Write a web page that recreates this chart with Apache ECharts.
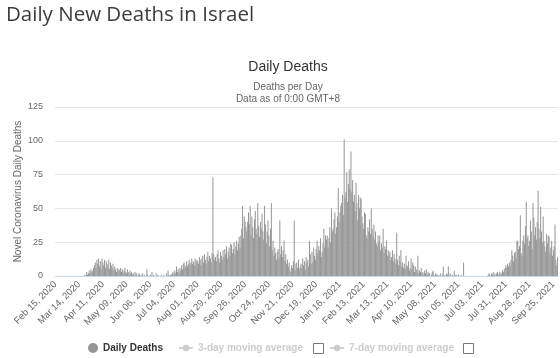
<!DOCTYPE html>
<html>
<head>
<meta charset="utf-8">
<script src="https://cdn.jsdelivr.net/npm/echarts@6/dist/echarts.min.js"></script>
<style>
html,body{margin:0;padding:0;background:#fff;}
#chart{width:560px;height:358px;}
</style>
</head>
<body>
<div id="chart"></div>
<script>
// Daily deaths, one array per month (Feb 15, 2020 onwards)
const feb2020 = [0,0,0,0,0,0,0,0,0,0,0,0,0,0,0];
const mar2020 = [0,0,0,0,0,0,0,0,0,0,0,0,0,0,0,0,0,0,0,1,0,1,3,1,2,4,2,5,3,4,6];
const apr2020 = [8,10,6,12,9,13,7,11,5,13,10,8,12,6,11,9,7,12,5,10,8,6,9,4,7,5,3,6,4,5];
const may2020 = [4,6,3,5,2,4,6,3,2,5,3,1,4,2,3,1,2,0,3,1,2,0,1,2,0,1,0,2,0,1,0];
const jun2020 = [0,5,1,0,0,1,0,3,0,1,0,0,2,0,1,0,0,0,1,0,0,1,0,0,2,0,4,1,0,1];
const jul2020 = [1,2,3,1,4,2,7,3,5,2,6,4,8,5,9,10,6,8,11,7,9,12,8,10,13,9,11,8,13,10,12];
const aug2020 = [11,9,14,12,8,13,15,10,16,12,9,14,18,11,15,13,10,17,73,16,12,14,11,16,19,13,10,18,15,12,19];
const sep2020 = [14,20,16,22,13,18,21,15,24,23,17,20,25,16,22,26,19,24,29,21,30,35,52,28,44,40,36,33,40,47];
const oct2020 = [38,52,30,44,36,28,42,48,35,31,54,37,29,40,35,46,33,27,52,38,24,33,41,30,22,35,54,19,26,15,21];
const nov2020 = [17,12,18,20,13,41,16,22,14,19,26,11,16,9,12,7,10,5,3,8,6,11,41,4,9,10,6,12,5,7];
const dec2020 = [9,6,13,8,11,5,14,10,12,7,26,16,9,18,10,21,15,12,20,26,17,22,19,28,14,18,24,35,21,30,27];
const jan2021 = [30,21,28,36,25,50,33,35,42,47,31,36,44,65,40,47,52,54,60,45,101,58,62,77,55,68,79,64,92,62,71];
const feb2021 = [55,60,48,69,54,41,60,50,58,57,44,39,35,47,46,30,28,36,33,42,31,50,35,29,38,27,33,24];
const mar2021 = [22,30,25,30,19,24,21,35,17,22,20,26,15,19,16,18,12,14,19,11,16,13,9,32,12,8,15,11,19,7,10];
const apr2021 = [6,9,5,15,8,7,11,4,6,13,5,10,8,3,7,5,4,15,2,4,3,6,2,3,1,4,2,5,1,3];
const may2021 = [2,2,0,1,3,4,1,0,2,1,1,0,1,0,2,0,1,7,0,1,0,2,1,7,0,2,1,0,1,0,4];
const jun2021 = [1,0,1,0,1,0,0,1,0,0,10,0,0,0,0,0,0,0,0,0,0,0,0,0,0,0,0,0,0,0];
const jul2021 = [0,0,0,0,0,0,0,0,0,1,2,1,0,2,1,3,1,2,0,2,3,1,2,3,1,2,4,3,5,6,8];
const aug2021 = [6,9,7,10,8,12,19,15,11,17,18,13,26,26,20,22,45,17,15,26,30,24,37,55,28,30,22,26,41,33,20];
const sep2021 = [54,43,30,36,27,40,63,35,28,51,33,25,44,26,22,18,31,24,30,29,17,21,26,15,19,22,38,12,8,14];

const deaths = [].concat(feb2020, mar2020, apr2020, may2020, jun2020, jul2020, aug2020, sep2020,
  oct2020, nov2020, dec2020, jan2021, feb2021, mar2021, apr2021, may2021, jun2021, jul2021, aug2021, sep2021);

const yTicks = [0, 25, 50, 75, 100, 125];
const monthNames = ['Jan','Feb','Mar','Apr','May','Jun','Jul','Aug','Sep','Oct','Nov','Dec'];
const startDate = Date.UTC(2020, 1, 15);
const dates = deaths.map((_, i) => {
  const d = new Date(startDate + i * 86400000);
  return monthNames[d.getUTCMonth()] + ' ' + String(d.getUTCDate()).padStart(2, '0') + ', ' + d.getUTCFullYear();
});

const chartFont = '"Liberation Sans", Arial, sans-serif';
const chart = echarts.init(document.getElementById('chart'), null, {renderer: 'canvas'});
const legendText = {fontFamily: chartFont, fontSize: 10, fontWeight: 'bold', color: '#333'};
chart.setOption({
  animation: false,
  backgroundColor: '#fff',
  title: [
    {text: 'Daily New Deaths in Israel', left: 1, top: 0,
     textStyle: {fontFamily: '"Open Sans", sans-serif', fontSize: 20.5, fontWeight: 'normal', color: '#3c3c3c'}},
    {text: 'Daily Deaths', left: 283, top: 55, textAlign: 'center',
     textStyle: {fontFamily: chartFont, fontSize: 14, fontWeight: 'normal', color: '#333'}},
    {text: 'Deaths per Day\nData as of 0:00 GMT+8', left: 283, top: 76, textAlign: 'center',
     textStyle: {fontFamily: chartFont, fontSize: 10, fontWeight: 'normal', color: '#666', lineHeight: 12}}
  ],
  grid: {left: 55, right: 2, top: 107, bottom: 82, containLabel: false},
  legend: [
    {data: [{name: 'Daily Deaths', icon: 'circle'}], left: 88, top: 343, padding: 0,
     itemWidth: 10, itemHeight: 10, textStyle: legendText, inactiveColor: '#ccc'},
    {data: ['3-day moving average'], left: 178, top: 343, padding: 0,
     itemWidth: 14, itemHeight: 8, textStyle: legendText, inactiveColor: '#ccc',
     selected: {'3-day moving average': false}},
    {data: ['7-day moving average'], left: 329, top: 343, padding: 0,
     itemWidth: 14, itemHeight: 8, textStyle: legendText, inactiveColor: '#ccc',
     selected: {'7-day moving average': false}}
  ],
  xAxis: {
    type: 'category',
    data: dates,
    boundaryGap: true,
    axisLine: {lineStyle: {color: '#ccd6eb'}},
    axisTick: {show: false},
    axisLabel: {interval: 27, rotate: 45, margin: 7, fontFamily: chartFont, fontSize: 9.5, color: '#666'}
  },
  yAxis: {
    type: 'value',
    min: yTicks[0], max: yTicks[yTicks.length - 1], interval: 25,
    name: 'Novel Coronavirus Daily Deaths',
    nameLocation: 'middle', nameGap: 32, nameMoveOverlap: false,
    nameTextStyle: {fontFamily: chartFont, fontSize: 10, color: '#666'},
    axisLabel: {margin: 12, fontFamily: chartFont, fontSize: 9, color: '#666'},
    splitLine: {lineStyle: {color: '#e6e6e6'}},
    axisLine: {show: false},
    axisTick: {show: false}
  },
  series: [
    {name: 'Daily Deaths', type: 'bar', data: deaths, barCategoryGap: '20%',
     itemStyle: {color: '#959595'}},
    {name: '3-day moving average', type: 'line', data: [], symbol: 'circle', itemStyle: {color: '#999'}},
    {name: '7-day moving average', type: 'line', data: [], symbol: 'circle', itemStyle: {color: '#999'}}
  ],
  graphic: [
    {type: 'rect', shape: {x: 313.5, y: 343.5, width: 10, height: 10},
     style: {fill: '#fff', stroke: '#777', lineWidth: 1}},
    {type: 'rect', shape: {x: 463.5, y: 343.5, width: 10, height: 10},
     style: {fill: '#fff', stroke: '#777', lineWidth: 1}}
  ]
});
</script>
</body>
</html>
